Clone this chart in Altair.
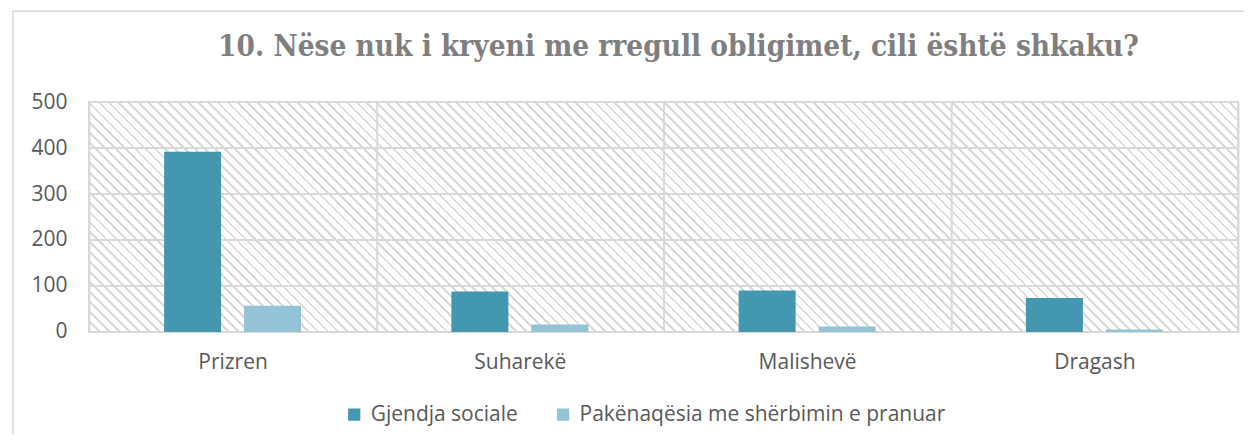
import altair as alt
import pandas as pd

categories = ["Prizren", "Suharekë", "Malishevë", "Dragash"]
series = ["Gjendja sociale", "Pakënaqësia me shërbimin e pranuar"]
gjendja_sociale = [392, 88, 90, 74]
pakenaqesia = [57, 16, 12, 5]
y_ticks = [0, 100, 200, 300, 400, 500]
colors = ["#4397AF", "#93C3D5"]
title_text = "10. Nëse nuk i kryeni me rregull obligimet, cili është shkaku?"

rows = []
for c, a, b in zip(categories, gjendja_sociale, pakenaqesia):
    rows.append({"Komuna": c, "Seria": series[0], "Vlera": a})
    rows.append({"Komuna": c, "Seria": series[1], "Vlera": b})
df = pd.DataFrame(rows)

W, H = 1150, 230
FONT = "Open Sans"
GRID = "#d9d9d9"
TXT = "#595959"

# diagonal hatch fill (style only)
period = 7.0
span = (W + H) / 2 ** 0.5
n = int(round(span / period))
frac = 0.28
HC = "#d9d9d9"
stops = []
for i in range(n):
    o0 = i / n
    o1 = (i + frac) / n
    o2 = (i + 1) / n
    stops += [
        alt.GradientStop(offset=o0, color=HC),
        alt.GradientStop(offset=o1, color=HC),
        alt.GradientStop(offset=o1, color="#ffffff"),
        alt.GradientStop(offset=o2, color="#ffffff"),
    ]
k = H / W
a = (1 + k) / (1 + k * k)
hatch_grad = alt.LinearGradient(gradient="linear", stops=stops,
                                x1=0, y1=1, x2=a, y2=1 - k * a)

one = pd.DataFrame({"d": [0]})

hatch = alt.Chart(one).mark_rect(fill=hatch_grad, stroke=GRID, strokeWidth=2).encode(
    x=alt.value(0), x2=alt.value(W), y=alt.value(0), y2=alt.value(H)
)

# outer chart frame (left and top edges; the others lie outside the window)
frame_left = alt.Chart(one).mark_rule(color=GRID, strokeWidth=1.5).encode(
    x=alt.value(-76), y=alt.value(-91), y2=alt.value(333)
)
frame_top = alt.Chart(one).mark_rule(color=GRID, strokeWidth=1.5).encode(
    x=alt.value(-76), x2=alt.value(W + 6), y=alt.value(-91)
)

y_axis = alt.Axis(values=y_ticks, title=None, grid=False, domain=False, ticks=False,
                  labelFont=FONT, labelFontSize=21, labelColor=TXT, labelPadding=22)
y_scale = alt.Scale(domain=[0, 500])

grid = alt.Chart(pd.DataFrame({"v": y_ticks})).mark_rule(color=GRID, strokeWidth=2).encode(
    y=alt.Y("v:Q", scale=y_scale, axis=y_axis)
)

bars = alt.Chart(df).mark_bar().encode(
    x=alt.X("Komuna:N", sort=categories,
            scale=alt.Scale(paddingInner=0, paddingOuter=0),
            axis=alt.Axis(title=None, labelAngle=0, grid=True, tickBand="extent",
                          gridColor=GRID, gridWidth=2, domain=False, ticks=False,
                          labelFont=FONT, labelFontSize=21, labelColor=TXT,
                          labelPadding=20, zindex=1)),
    xOffset=alt.XOffset("Seria:N", sort=series,
                        scale=alt.Scale(paddingInner=0.2875, paddingOuter=0.9406)),
    y=alt.Y("Vlera:Q", scale=y_scale, axis=y_axis),
    color=alt.Color("Seria:N", sort=series,
                    scale=alt.Scale(domain=series, range=colors),
                    legend=alt.Legend(title=None, orient="none", direction="horizontal",
                                      legendX=255, legendY=302, symbolType="square",
                                      symbolSize=150, symbolStrokeWidth=0,
                                      labelFont=FONT, labelFontSize=21, labelColor=TXT,
                                      labelOffset=6, columnPadding=34, labelLimit=0)),
)

chart = alt.layer(frame_left, frame_top, hatch, grid, bars).properties(
    width=W, height=H,
    padding={"left": 4, "top": 2, "right": 0, "bottom": 0},
    title=alt.TitleParams(title_text, font="DejaVu Serif Condensed", fontSize=29.5,
                          fontWeight="bold", color="#7f7f7f", anchor="middle",
                          frame="group", dx=15, offset=-52),
).configure_view(stroke=None)

chart.save("out.html", embed_options={"renderer": "svg", "actions": False})
